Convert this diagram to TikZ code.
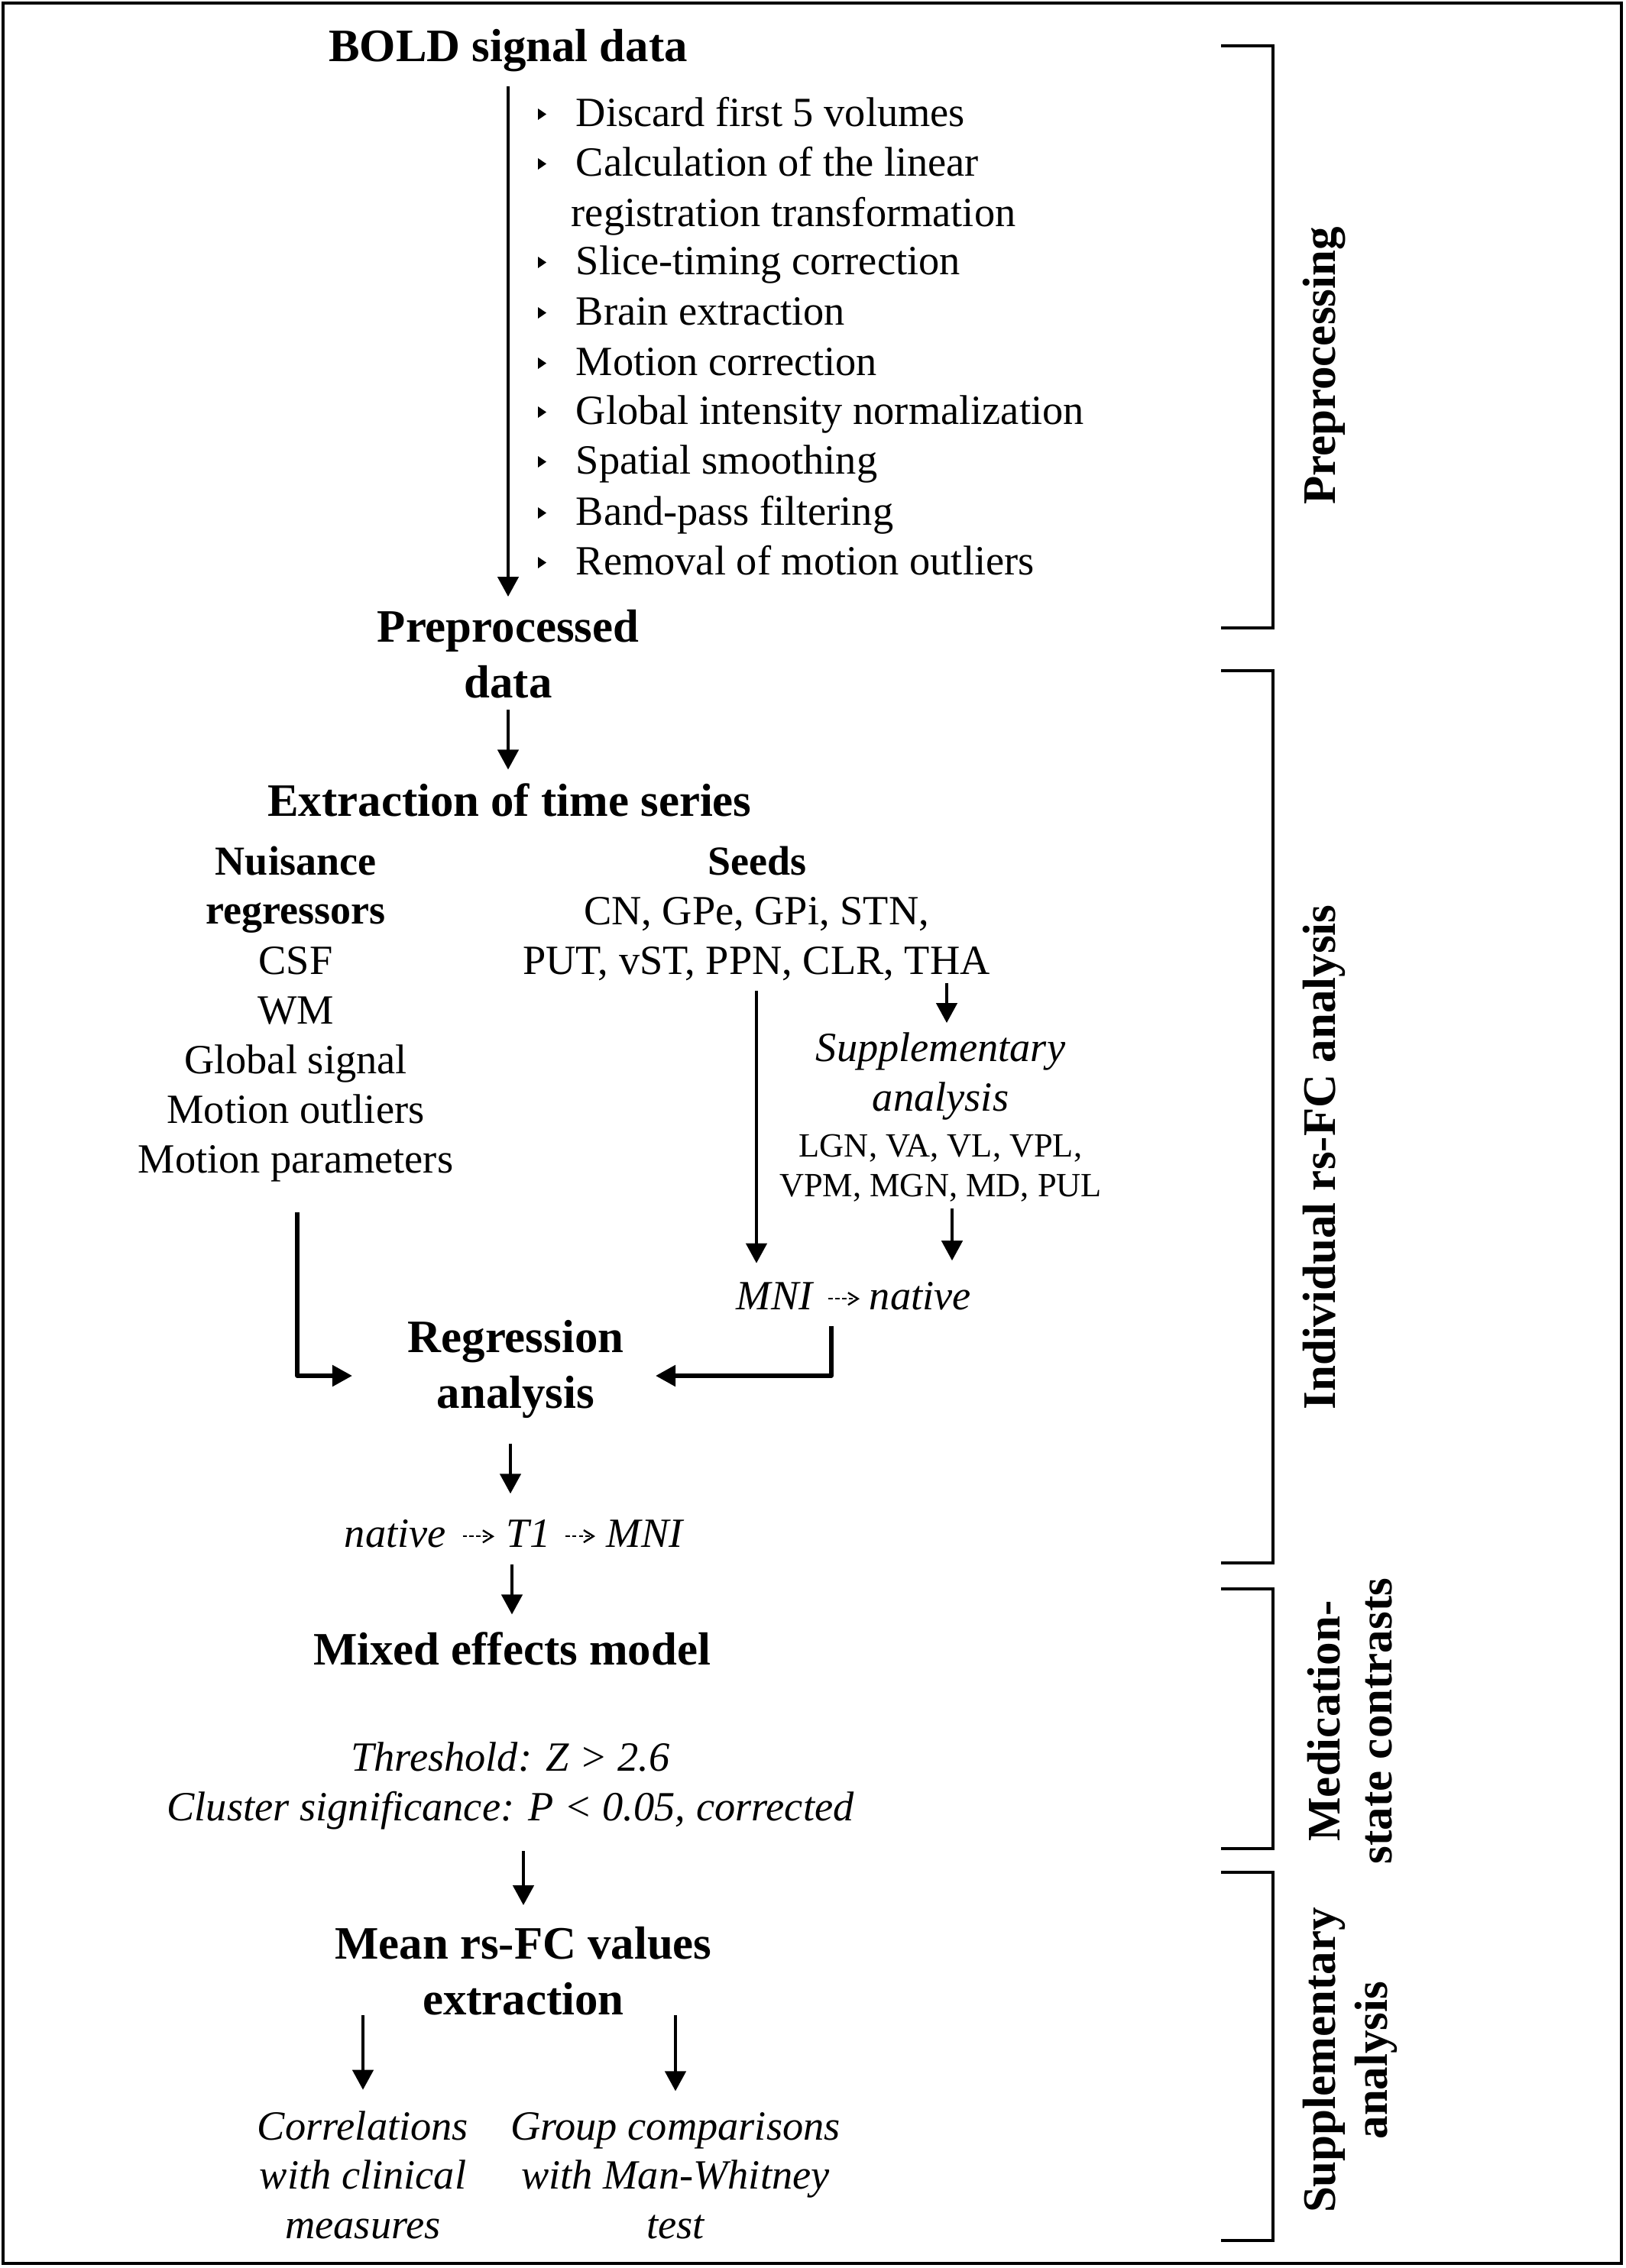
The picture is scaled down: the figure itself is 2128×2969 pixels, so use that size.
\documentclass[tikz,border=0pt]{standalone}
\usepackage{fontspec}
\setmainfont{Liberation Serif}
\usetikzlibrary{arrows.meta}
\begin{document}
\begin{tikzpicture}[x=0.25pt,y=-0.25pt,
  hd/.style={font=\fontsize{15.2}{18.25}\selectfont\bfseries, inner sep=0pt, anchor=base, align=center},
  hs/.style={font=\fontsize{13.5}{16}\selectfont\bfseries, inner sep=0pt, anchor=base, align=center},
  tx/.style={font=\fontsize{13.6}{16.25}\selectfont, inner sep=0pt, anchor=base, align=center},
  it/.style={font=\fontsize{13.6}{16.1}\selectfont\itshape, inner sep=0pt, anchor=base, align=center},
  itl/.style={font=\fontsize{13.6}{16.25}\selectfont\itshape, inner sep=0pt, anchor=base west},
  sm/.style={font=\fontsize{11.1}{13}\selectfont, inner sep=0pt, anchor=base, align=center},
  bl/.style={font=\fontsize{13.6}{16.25}\selectfont, inner sep=0pt, anchor=base west},
  arr/.style={line width=1pt, -{Triangle[width=6.8pt,length=6.5pt]}},
  earr/.style={line width=1.3pt, line join=round, -{Triangle[width=6.8pt,length=6.5pt]}},
  darr/.style={line width=0.6pt, dash pattern=on 1.4pt off 0.8pt, -{Straight Barb[length=3.2pt,width=4pt]}},
  brk/.style={line width=1.2pt, line join=miter},
  side/.style={font=\fontsize{15.25}{17}\selectfont\bfseries, rotate=90, inner sep=0pt, align=center}
]
\path[use as bounding box] (0,0) rectangle (2128,2969);
\draw[line width=1pt] (4,4) rectangle (2122,2963);

% top block
\node[hd] (bold) at (665,80) {BOLD signal data};
\node[bl] (b1) at (753,165) {Discard first 5 volumes};
\node[bl] (b2) at (753,230) {Calculation of the linear};
\node[bl] (b2b) at (747,296) {registration transformation};
\node[bl] (b3) at (753,359) {Slice-timing correction};
\node[bl] (b4) at (753,425) {Brain extraction};
\node[bl] (b5) at (753,491) {Motion correction};
\node[bl] (b6) at (753,555) {Global intensity normalization};
\node[bl] (b7) at (753,620) {Spatial smoothing};
\node[bl] (b8) at (753,687) {Band-pass filtering};
\node[bl] (b9) at (753,752) {Removal of motion outliers};
\foreach \b in {165,230,359,425,491,555,620,687,752}
  \fill (704,\b-23) -- (715,\b-15.5) -- (704,\b-8) -- cycle;

\node[hd] (pre) at (665,913) {Preprocessed\\data};
\node[hd] (ext) at (667,1068) {Extraction of time series};

\node[hs] (nuis) at (387,1209) {Nuisance\\regressors};
\node[tx] (nreg) at (387,1535) {CSF\\WM\\Global signal\\Motion outliers\\Motion parameters};
\node[hs] (seeds) at (991,1145) {Seeds};
\node[tx] (seedl) at (990,1275) {CN, GPe, GPi, STN,\\PUT, vST, PPN, CLR, THA};
\node[it] (supp) at (1231,1454) {Supplementary\\analysis};
\node[sm] (thal) at (1231,1566) {LGN, VA, VL, VPL,\\VPM, MGN, MD, PUL};
\node[itl] (mni) at (963,1714) {MNI};
\node[itl] (nat) at (1137,1714) {native};
\node[hd] (reg) at (675,1843) {Regression\\analysis};
\node[itl] (nat2) at (450,2025) {native};
\node[itl] (t1) at (662,2025) {T1};
\node[itl] (mni2) at (793,2025) {MNI};
\node[hd] (mix) at (670,2179) {Mixed effects model};
\node[it] (thr) at (668,2383) {Threshold: Z > 2.6\\Cluster significance: P < 0.05, corrected};
\node[hd] (mean) at (685,2637) {Mean rs-FC values\\extraction};
\node[it] (corr) at (475,2930) {Correlations\\with clinical\\measures};
\node[it] (grp) at (884,2930) {Group comparisons\\with Man-Whitney\\test};

% connectors
\coordinate (thaX) at (1239,0);
\coordinate (seedX) at (990,0);
\coordinate (vpmX) at (1246,0);
\coordinate (rj) at (1088,1801);
\coordinate (lj) at (389,1801);

\draw[arr, shorten <=4.75pt, shorten >=4pt] (bold.south) -- (pre.north);
\draw[arr, shorten <=3.75pt, shorten >=4.25pt] (pre.south) -- (pre.south |- ext.north);
\draw[arr, shorten <=0.75pt, shorten >=3pt] (seedl.south -| thaX) -- (supp.north -| thaX);
\draw[arr, shorten <=3.25pt, shorten >=6pt] (seedl.south -| seedX) -- (mni.north -| seedX);
\draw[arr, shorten <=2pt, shorten >=6.75pt] (thal.south -| vpmX) -- (nat.north -| vpmX);
\draw[earr, shorten <=5.25pt, shorten >=10.25pt] (mni.south -| rj) -- (rj) -- (reg.east |- rj);
\draw[earr, shorten <=10pt, shorten >=18pt] (nreg.south -| lj) -- (lj) -- (reg.west |- lj);
\draw[arr, shorten <=8.25pt, shorten >=8.25pt] ([xshift=-1.75pt]reg.south) -- ([xshift=-1.75pt]reg.south |- t1.north);
\draw[arr, shorten <=5.5pt, shorten >=5.5pt] (mix.north |- t1.south) -- (mix.north);
\draw[arr, shorten <=7pt, shorten >=6.75pt] (mean.north |- thr.south) -- (mean.north);
\draw[arr, shorten >=6.75pt] (corr.north |- mean.south) -- (corr.north);
\draw[arr, shorten >=6.75pt] (grp.north |- mean.south) -- (grp.north);

\draw[darr, shorten <=5pt, shorten >=3pt] ([yshift=-1pt]mni.east) -- ([yshift=-1pt]mni.east -| nat.west);
\draw[darr, shorten <=5.25pt, shorten >=3.75pt] ([yshift=-1pt]nat2.east) -- ([yshift=-1pt]nat2.east -| t1.west);
\draw[darr, shorten <=4.75pt, shorten >=3.5pt] ([yshift=-1pt]t1.east) -- ([yshift=-1pt]t1.east -| mni2.west);

% brackets
\draw[brk] (1598,60) -- (1666,60) -- (1666,822) -- (1598,822);
\draw[brk] (1598,878) -- (1666,878) -- (1666,2046) -- (1598,2046);
\draw[brk] (1598,2080) -- (1666,2080) -- (1666,2420) -- (1598,2420);
\draw[brk] (1598,2451) -- (1666,2451) -- (1666,2933) -- (1598,2933);

\node[side] (lpre) at (1733,479) {Preprocessing};
\node[side] (lind) at (1733,1515) {Individual rs-FC analysis};
\node[side] (lmed) at (1767,2253) {Medication-\\state contrasts};
\node[side] (lsup) at (1767,2697) {Supplementary\\analysis};
\end{tikzpicture}
\end{document}
